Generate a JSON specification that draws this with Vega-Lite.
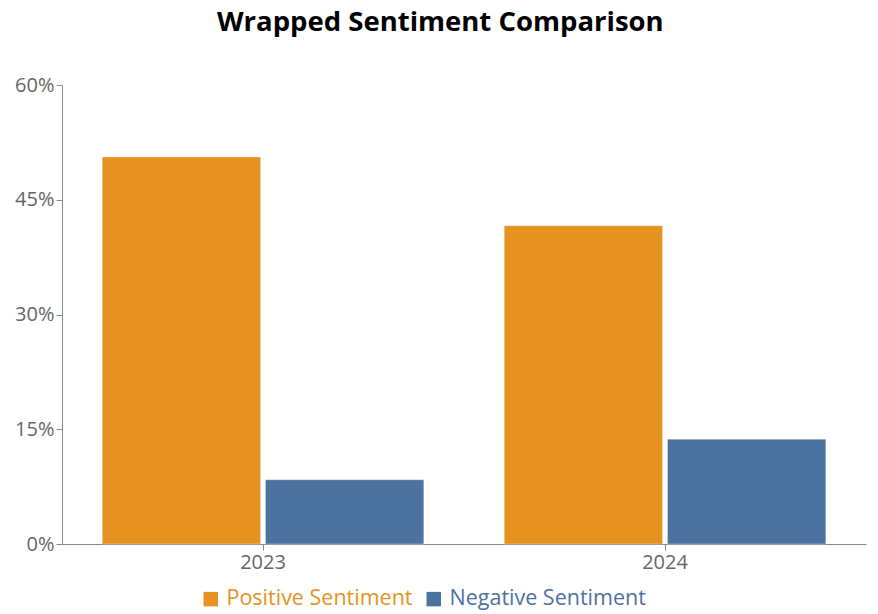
{
  "$schema": "https://vega.github.io/schema/vega-lite/v6.json",
  "width": 804,
  "height": 459,
  "autosize": {"type": "none"},
  "padding": {"left": 62, "top": 85, "right": 12, "bottom": 70},
  "title": {
    "text": "Wrapped Sentiment Comparison",
    "font": "Open Sans",
    "fontSize": 27.5,
    "fontWeight": "bold",
    "color": "#000000",
    "anchor": "middle",
    "frame": "bounds",
    "offset": 39
  },
  "data": {
    "values": [
      {"year": "2023", "series": "Positive Sentiment", "value": 0.506},
      {"year": "2023", "series": "Negative Sentiment", "value": 0.084},
      {"year": "2024", "series": "Positive Sentiment", "value": 0.416},
      {"year": "2024", "series": "Negative Sentiment", "value": 0.137}
    ]
  },
  "mark": {"type": "bar", "stroke": "#ffffff", "strokeOpacity": 0.35, "strokeWidth": 1},
  "encoding": {
    "x": {
      "field": "year",
      "type": "nominal",
      "scale": {"paddingInner": 0.2, "paddingOuter": 0.1},
      "axis": {"title": null, "labelAngle": 0, "labelFontSize": 20, "labelColor": "#666666", "labelFont": "Open Sans", "domainColor": "#888888", "tickColor": "#888888", "tickSize": 6, "labelPadding": 2}
    },
    "xOffset": {
      "field": "series",
      "type": "nominal",
      "sort": ["Positive Sentiment", "Negative Sentiment"],
      "scale": {"paddingInner": 0.03}
    },
    "y": {
      "field": "value",
      "type": "quantitative",
      "scale": {"domain": [0, 0.6]},
      "axis": {"title": null, "format": ".0%", "values": [0, 0.15, 0.3, 0.45, 0.6], "grid": false, "labelFontSize": 20, "labelColor": "#666666", "labelFont": "Open Sans", "domainColor": "#888888", "tickColor": "#888888", "tickSize": 6, "labelPadding": 2}
    },
    "color": {
      "field": "series",
      "type": "nominal",
      "sort": ["Positive Sentiment", "Negative Sentiment"],
      "scale": {"domain": ["Positive Sentiment", "Negative Sentiment"], "range": ["#E69221", "#4C72A0"]},
      "legend": {
        "title": null,
        "orient": "none",
        "direction": "horizontal",
        "legendX": 138,
        "legendY": 503,
        "symbolType": "square",
        "symbolSize": 210,
        "symbolStrokeWidth": 0,
        "labelFontSize": 21.5,
        "labelFont": "Open Sans",
        "labelLimit": 0,
        "labelColor": {"expr": "datum.label == 'Positive Sentiment' ? '#E69221' : '#4C72A0'"},
        "columnPadding": 10,
        "labelOffset": 5
      }
    }
  },
  "config": {
    "view": {"stroke": null},
    "axis": {"domainWidth": 1}
  }
}
